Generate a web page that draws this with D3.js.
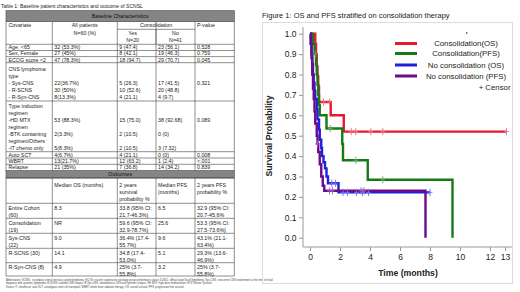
<!DOCTYPE html>
<html>
<head>
<meta charset="utf-8">
<script src="https://cdn.jsdelivr.net/npm/d3@7"></script>
<style>
  body { margin: 0; background: #fff; }
  svg { display: block; font-family: "Liberation Sans", Arial, sans-serif; }
</style>
</head>
<body>
<svg id="chart" width="520" height="292"></svg>
<script>
// ---------- table data ----------
const tableTitle = "Table 1: Baseline patient characteristics and outcome of SCNSL";
const baseHeader = ["Covariate", ["All patients", "N=60 (%)"], "Consolidation", ["Yes", "N=20"], ["No", "N=41"], "P-value"];
const baseRows = [
  [["Age, <65"], ["32 (53.3%)"], ["9 (47.4)"], ["23 (56.1)"], ["0.528"]],
  [["Sex, Female"], ["27 (45%)"], ["8 (42.1)"], ["19 (46.3)"], ["0.759"]],
  [["ECOG score <2"], ["47 (78.3%)"], ["18 (94.7)"], ["29 (70.7)"], ["0.045"]],
  [["CNS lymphoma", "type", "- Sys-CNS", "- R-SCNS", "- R-Syn-CNS"],
   ["", "", "22(36.7%)", "30 (50%)", "8(13.3%)"],
   ["", "", "5 (26.3)", "10 (52.6)", "4 (21.1)"],
   ["", "", "17 (41.5)", "20 (48.8)", "4 (9.7)"],
   ["", "", "0.321"]],
  [["Type induction", "regimen", "-HD MTX", "regimen", "-BTK containing", "regimen/Others", "-IT chemo only"],
   ["", "", "53 (88.3%)", "", "2(3.3%)", "", "5(8.3%)"],
   ["", "", "15 (75.0)", "", "2 (10.5)", "", "2 (10.5)"],
   ["", "", "38 (92.68)", "", "0 (0)", "", "3 (7.32)"],
   ["", "", "0.089"]],
  [["Auto SCT"], ["4(6.7%)"], ["4 (21.1)"], ["0 (0)"], ["0.008"]],
  [["WBRT"], ["13(21.7%)"], ["12 (63.2)"], ["1 (2.4)"], ["<.001"]],
  [["Relapse"], ["21 (35%)"], ["7 (36.8)"], ["14 (34.2)"], ["0.839"]]
];
const outcomeHeader = [[""], ["Median OS (months)"], ["2 years", "survival", "probability %"], ["Median PFS", "(months)"], ["2 years PFS", "probability %"]];
const outcomeRows = [
  [["Entire Cohort", "(60)"], ["8.3"], ["33.8 (95% CI:", "21.7-46.3%)"], ["6.5"], ["32.9 (95% CI:", "20.7-45.6%"]],
  [["Consolidation", "(19)"], ["NR"], ["59.6 (95% CI:", "32.9-78.7%)"], ["25.6"], ["53.3 (95% CI:", "27.5-73.6%)"]],
  [["Sys-CNS", "(22)"], ["9.0"], ["36.4% (17.4-", "55.7%)"], ["9.6"], ["43.1% (21.1-", "63.4%)"]],
  [["R-SCNS (30)"], ["14.1"], ["34.8 (17.4-", "53.0%)"], ["5.1"], ["29.3% (13.6-", "46.9%)"]],
  [["R-Syn-CNS (8)"], ["4.9"], ["25% (3.7-", "55.8%)"], ["3.2"], ["25% (3.7-", "55.8%)"]]
];
const footnote = [
  "Abbreviation: SCNSL: secondary central nervous system lymphoma; ECOG: eastern cooperative oncology group performance status; DLBCL: diffuse large B-cell lymphoma; Sys-CNS: concurrent CNS involvement at the time of initial",
  "diagnosis with systemic lymphoma; R-SCNS: isolated CNS relapse; R-Syn-CNS: simultaneous CNS and systemic relapse; HD MTX: high dose methotrexate; BTK: Bruton Tyrosine",
  "Kinase; IT: intrathecal; auto SCT: autologous stem cell transplant; WBRT: whole brain radiation therapy; OS: overall survival; PFS: progression free survival"
];

// ---------- chart data: [time (months), survival probability] ----------
const figTitle = "Figure 1: OS and PFS stratified on consolidation therapy";
const seriesNames = ["Consolidation(OS)", "Consolidation(PFS)", "No consolidation (OS)", "No consolidation (PFS)"];
const seriesColors = ["#e8192c", "#177a17", "#2020d8", "#6c0b8c"];
const censorColors = ["#f27080", "#6aa86a", "#7070f0", "#a060c0"];

const osCons = [[0, 1], [0.35, 0.95], [0.4, 0.9], [0.45, 0.84], [0.5, 0.79], [0.55, 0.74], [0.6, 0.665],
  [1.38, 0.6], [2.25, 0.52], [13.1, 0.52]];
const pfsCons = [[0, 1], [0.2, 0.95], [0.3, 0.9], [0.4, 0.85], [0.45, 0.8], [0.5, 0.75], [0.55, 0.7],
  [0.6, 0.65], [0.65, 0.6], [1.1, 0.535], [2.15, 0.46], [2.2, 0.38], [3.85, 0.284], [9.5, 0], [9.5, 0]];
const osNoCons = [[0, 1], [0.05, 0.95], [0.1, 0.9], [0.15, 0.85], [0.2, 0.8], [0.25, 0.76], [0.3, 0.72],
  [0.35, 0.68], [0.45, 0.63], [0.5, 0.58], [0.6, 0.53], [0.65, 0.48], [0.75, 0.44], [0.8, 0.4],
  [0.9, 0.37], [1.0, 0.34], [1.1, 0.3], [1.2, 0.267], [1.9, 0.222], [8.0, 0.222]];
const pfsNoCons = [[0, 1], [0.05, 0.95], [0.1, 0.88], [0.15, 0.8], [0.2, 0.73], [0.25, 0.68], [0.3, 0.62],
  [0.35, 0.56], [0.45, 0.5], [0.5, 0.46], [0.55, 0.42], [0.65, 0.36], [0.75, 0.3], [0.85, 0.255],
  [0.95, 0.23], [7.7, 0], [7.7, 0]];

const censOsCons = [[0.9, 0.665], [1.3, 0.665], [2.75, 0.52], [3.05, 0.52], [4.05, 0.52], [4.85, 0.52], [13.1, 0.52]];
const censPfsCons = [[0.35, 0.9], [1.35, 0.535], [3.05, 0.38], [4.85, 0.284]];
const censOsNoCons = [[1.45, 0.267], [1.7, 0.267], [2.2, 0.222], [2.5, 0.222], [3.1, 0.222], [3.5, 0.222], [3.9, 0.222], [8.0, 0.222]];
const censPfsNoCons = [[0.5, 0.46], [1.3, 0.23], [1.5, 0.23], [3.4, 0.23], [3.6, 0.23]];

const yTicks = [0, 0.1, 0.2, 0.3, 0.4, 0.5, 0.6, 0.7, 0.8, 0.9, 1.0];
const xTicks = [0, 2, 4, 6, 8, 10, 12, 13];

// ---------- drawing ----------
const svg = d3.select("#chart");
const ink = "#222";

// table
const colX = [6, 52.3, 117.3, 156, 195, 234.3];
const fs = 5.3;
const tbl = svg.append("g").attr("font-size", fs).attr("fill", ink);
const rule = "#444";
const hline = (y, x0, x1) => tbl.append("line").attr("x1", x0 ?? colX[0]).attr("x2", x1 ?? colX[5])
  .attr("y1", y).attr("y2", y).attr("stroke", rule).attr("stroke-width", 0.6);
const vline = (x, y0, y1) => tbl.append("line").attr("x1", x).attr("x2", x)
  .attr("y1", y0).attr("y2", y1).attr("stroke", rule).attr("stroke-width", 0.6);
const txt = (x, y, s, anchor) => tbl.append("text").attr("x", x).attr("y", y).attr("dy", "0.35em")
  .attr("text-anchor", anchor || "start").text(s);

tbl.append("text").attr("x", 1).attr("y", 6).attr("dy", "0.35em").attr("font-size", 5).text(tableTitle);

// grey bands
function band(y0, y1, label) {
  tbl.append("rect").attr("x", colX[0]).attr("y", y0).attr("width", colX[5] - colX[0]).attr("height", y1 - y0)
    .attr("fill", "#858585").attr("stroke", rule).attr("stroke-width", 0.6);
  txt((colX[0] + colX[5]) / 2, (y0 + y1) / 2, label, "middle").attr("fill", "#111");
}
band(10.7, 21.7, "Baseline Characteristics");

// baseline header
const hTop = 21.7, hBot = 44.3;
txt(colX[0] + 2.5, hTop + 3.5, baseHeader[0]);
baseHeader[1].forEach((s, i) => txt((colX[1] + colX[2]) / 2, hTop + 3.5 + i * 7.5, s, "middle"));
txt((colX[2] + colX[4]) / 2, hTop + 3.5, baseHeader[2], "middle");
baseHeader[3].forEach((s, i) => txt((colX[2] + colX[3]) / 2 - 4, hTop + 11.5 + i * 6.8, s, "middle"));
baseHeader[4].forEach((s, i) => txt((colX[3] + colX[4]) / 2, hTop + 11.5 + i * 6.8, s, "middle"));
txt(colX[4] + 2, hTop + 3.5, baseHeader[5]);
hline(29.3, colX[2], colX[4]);
vline(colX[3], 29.3, hBot);

// baseline rows
const baseTops = [44.3, 50.5, 56.6, 62.7, 101, 151.7, 158, 164.3, 170.6];
const baseFirst = [3.1, 3.1, 3.1, 6.4, 5.4, 3.1, 3.1, 3.1];
baseRows.forEach((row, r) => {
  const top = baseTops[r];
  hline(top);
  row.forEach((cell, c) => {
    cell.forEach((s, i) => { if (s) txt(colX[c] + (c === 0 ? 2.5 : 2), top + baseFirst[r] + i * 6.9, s); });
  });
});
colX.forEach(xv => vline(xv, hTop, 170.6));

// outcomes
band(170.6, 178, "Outcomes");
const outTops = [178, 203.3, 218.3, 233.3, 248.3, 262.7, 276];
[outcomeHeader].concat(outcomeRows).forEach((row, r) => {
  const top = outTops[r];
  hline(top);
  row.forEach((cell, c) => {
    cell.forEach((s, i) => { if (s) txt(colX[c] + (c === 0 ? 2.5 : 2), top + (r === 0 ? 7 : 4.8) + i * 7, s); });
  });
});
hline(276);
colX.forEach(xv => vline(xv, 178, 276));

footnote.forEach((s, i) => tbl.append("text").attr("x", colX[0]).attr("y", 280 + i * 3.5)
  .attr("dy", "0.35em").attr("font-size", 2.6).attr("fill", "#444").text(s));

// figure
const fig = svg.append("g");
fig.append("text").attr("x", 262).attr("y", 15).attr("dy", "0.35em").attr("font-size", 7.5)
  .attr("fill", ink).text(figTitle);
fig.append("rect").attr("x", 262.5).attr("y", 22.5).attr("width", 250).attr("height", 261)
  .attr("fill", "none").attr("stroke", "#dcdcdc").attr("stroke-width", 1);

const x = d3.scaleLinear().domain([0, 13]).range([310, 505]);
const y = d3.scaleLinear().domain([0, 1]).range([237.7, 33.7]);

const yAxis = fig.append("g").attr("transform", "translate(303,0)")
  .call(d3.axisLeft(y).tickValues(yTicks).tickFormat(d3.format(".1f")).tickSize(4).tickSizeOuter(0));
const xAxis = fig.append("g").attr("transform", "translate(0,247)")
  .call(d3.axisBottom(x).tickValues(xTicks).tickSize(4).tickSizeOuter(0));
[yAxis, xAxis].forEach(g => {
  g.select(".domain").remove();
  g.selectAll("line").attr("stroke", "#999");
  g.selectAll("text").attr("font-size", 8.5).attr("fill", ink)
    .attr("font-family", "'Liberation Sans', Arial, sans-serif");
});
yAxis.selectAll("text").attr("x", -6.5);
xAxis.selectAll("text").attr("y", 7);
fig.append("line").attr("x1", 303).attr("x2", 303).attr("y1", 27).attr("y2", 247).attr("stroke", "#999");
fig.append("line").attr("x1", 303).attr("x2", 512).attr("y1", 247).attr("y2", 247).attr("stroke", "#999");

fig.append("text").attr("transform", "translate(268.5,136) rotate(-90)").attr("text-anchor", "middle")
  .attr("dy", "0.35em").attr("font-size", 8.7).attr("font-weight", "bold").attr("fill", ink)
  .text("Survival Probability");
fig.append("text").attr("x", 408).attr("y", 273).attr("dy", "0.35em").attr("text-anchor", "middle")
  .attr("font-size", 8.7).attr("font-weight", "bold").attr("fill", ink).text("Time (months)");

// curves
const line = d3.line().x(d => x(d[0])).y(d => y(d[1])).curve(d3.curveStepAfter);
const curves = [osCons, pfsCons, osNoCons, pfsNoCons];
const censors = [censOsCons, censPfsCons, censOsNoCons, censPfsNoCons];

curves.forEach((data, i) => {
  fig.append("path").datum(data).attr("d", line).attr("fill", "none")
    .attr("stroke", seriesColors[i]).attr("stroke-width", 2.4);
});
censors.forEach((data, i) => {
  fig.append("g").selectAll("path").data(data).join("path")
    .attr("d", d => `M${x(d[0])},${y(d[1]) - 3.6}v7.2M${x(d[0]) - 2.4},${y(d[1])}h4.8`)
    .attr("stroke", censorColors[i]).attr("stroke-width", 0.9).attr("fill", "none");
});

// legend
const legY = [43.5, 53.5, 65, 76];
const leg = fig.append("g");
seriesNames.forEach((name, i) => {
  leg.append("line").attr("x1", 395).attr("x2", 417).attr("y1", legY[i]).attr("y2", legY[i])
    .attr("stroke", seriesColors[i]).attr("stroke-width", 3);
  leg.append("text").attr("x", 466).attr("y", legY[i]).attr("dy", "0.35em").attr("text-anchor", "middle")
    .attr("font-size", 7.8).attr("fill", ink).text(name);
});
leg.append("text").attr("x", 510.5).attr("y", 87).attr("dy", "0.35em").attr("text-anchor", "end")
  .attr("font-size", 7.8).attr("fill", ink).text("+ Censor");
leg.append("circle").attr("cx", 466.7).attr("cy", 33).attr("r", 0.8).attr("fill", ink);
</script>
</body>
</html>
